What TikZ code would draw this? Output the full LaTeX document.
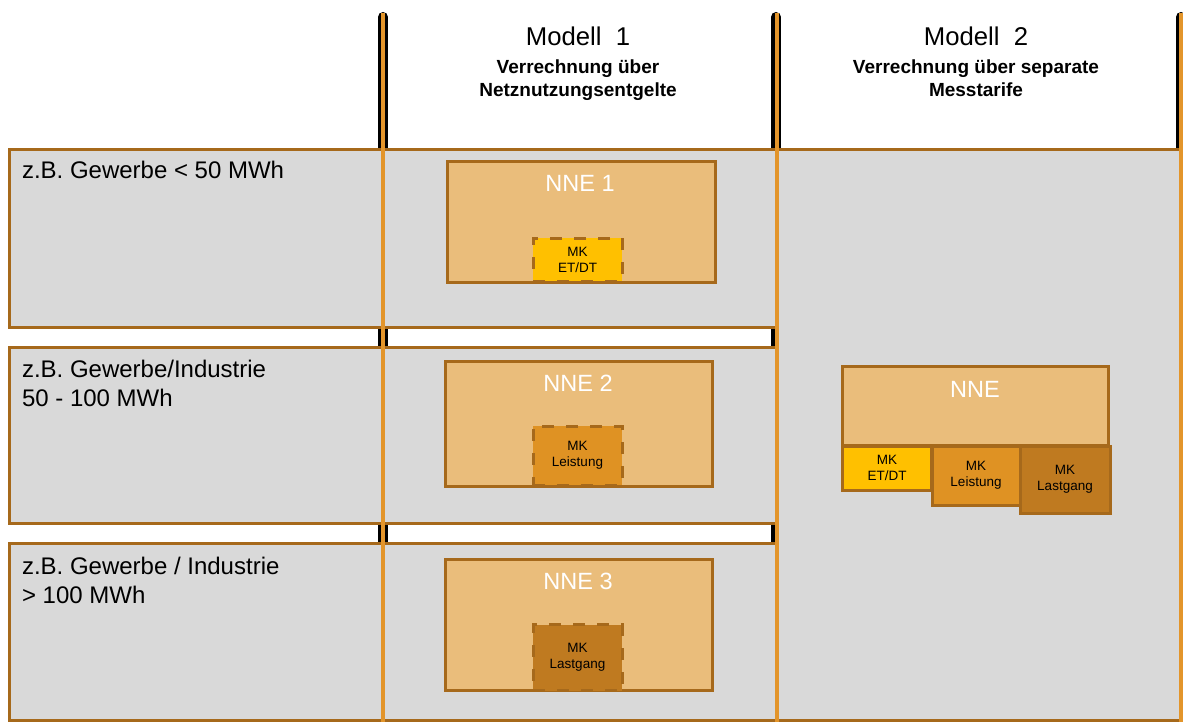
\documentclass[tikz,border=0pt]{standalone}
\usepackage{fontspec}
\setmainfont{Liberation Sans}
\definecolor{rowgray}{HTML}{D9D9D9}
\definecolor{edgebrown}{HTML}{A6691B}
\definecolor{rulerorange}{HTML}{E3952B}
\definecolor{nnefill}{HTML}{EABD7B}
\definecolor{mkyellow}{HTML}{FFC000}
\definecolor{mkorange}{HTML}{DF9223}
\definecolor{mkbrown}{HTML}{BF7A20}
\tikzset{
  plain/.style={rectangle, inner sep=0pt, outer sep=0pt},
  rowbox/.style={plain, draw=edgebrown, line width=3pt, fill=rowgray},
  nnebox/.style={plain, draw=edgebrown, line width=3pt, fill=nnefill},
  mkbox/.style={plain, draw=edgebrown, line width=3pt, align=center,
    font=\fontsize{13.5}{16}\selectfont},
  mkdashed/.style={mkbox, dash pattern=on 12pt off 12pt},
  blackbar/.style={line width=10pt, line cap=round, black},
  orangebar/.style={line width=4pt, rulerorange},
  titletext/.style={plain, anchor=base, font=\fontsize{25.7}{30}\selectfont},
  subtext/.style={plain, anchor=base, font=\fontsize{19}{22}\selectfont\bfseries},
  rowtext/.style={plain, anchor=base west, font=\fontsize{24}{28}\selectfont},
  nnetext/.style={plain, anchor=base, text=white, font=\fontsize{23.5}{27}\selectfont}
}
\begin{document}
\begin{tikzpicture}[x=1pt, y=-1pt]
  \useasboundingbox[fill=white] (0,0) rectangle (1183,722);

  % column separators: black bars behind the rows
  \coordinate (b1t) at (383,17);  \coordinate (b1b) at (383,720);
  \coordinate (b2t) at (776,17);  \coordinate (b2b) at (776,720);
  \coordinate (b3t) at (1181,17); \coordinate (b3b) at (1181,150);
  \draw[blackbar] (b1t) -- (b1b);
  \draw[blackbar] (b2t) -- (b2b);
  \draw[blackbar] (b3t) -- (b3b);

  % rows of the table
  \node[rowbox, minimum width=768pt, minimum height=177pt] (rowA) at (393,238.5) {};
  \node[rowbox, minimum width=768pt, minimum height=176pt] (rowB) at (393,435) {};
  \node[rowbox, minimum width=768pt, minimum height=177pt] (rowC) at (393,631.5) {};
  \node[rowbox, minimum width=404pt, minimum height=570pt] (right) at (979,435) {};

  % orange column rules in front
  \coordinate (o1t) at (383,13);  \coordinate (o1b) at (383,722);
  \coordinate (o2t) at (777,13);  \coordinate (o2b) at (777,722);
  \coordinate (o3t) at (1181,13); \coordinate (o3b) at (1181,722);
  \draw[orangebar] (o1t) -- (o1b);
  \draw[orangebar] (o2t) -- (o2b);
  \draw[orangebar] (o3t) -- (o3b);

  % headers
  \node[titletext] (m1) at (578,46) {Modell\ \ 1};
  \node[subtext] (m1a) at (578,74) {Verrechnung über};
  \node[subtext] (m1b) at (578,97) {Netznutzungsentgelte};
  \node[titletext] (m2) at (976,46) {Modell\ \ 2};
  \node[subtext] (m2a) at (976,74) {Verrechnung über separate};
  \node[subtext] (m2b) at (976,97) {Messtarife};

  % row labels
  \node[rowtext] (lA) at (22,179) {z.B. Gewerbe < 50 MWh};
  \node[rowtext] (lB1) at (22,377) {z.B. Gewerbe/Industrie};
  \node[rowtext] (lB2) at (22,406) {50 - 100 MWh};
  \node[rowtext] (lC1) at (22,574) {z.B. Gewerbe / Industrie};
  \node[rowtext] (lC2) at (22,603) {> 100 MWh};

  % model 1: charges with embedded metering cost
  \node[nnebox, minimum width=268pt, minimum height=120pt] (nne1) at (581,222) {};
  \node[nnetext] (t1) at (580,192) {NNE 1};
  \node[mkdashed, fill=mkyellow, minimum width=89pt, minimum height=43pt] (mk1) at (577.5,259.5) {MK\\ET/DT};

  \node[nnebox, minimum width=267pt, minimum height=125pt] (nne2) at (578.5,423.5) {};
  \node[nnetext] (t2) at (578,391) {NNE 2};
  \node[mkdashed, fill=mkorange, minimum width=89pt, minimum height=59pt] (mk2) at (577.5,455.5) {MK\\Leistung};

  \node[nnebox, minimum width=267pt, minimum height=131pt] (nne3) at (578.5,624.5) {};
  \node[nnetext] (t3) at (578,589) {NNE 3};
  \node[mkdashed, fill=mkbrown, minimum width=89pt, minimum height=66pt] (mk3) at (577.5,657.5) {MK\\Lastgang};

  % model 2: charges plus separate metering tariffs
  \node[nnebox, minimum width=266pt, minimum height=79pt] (nne) at (975,405.5) {};
  \node[nnetext] (t4) at (975,397) {NNE};
  \node[mkbox, fill=mkyellow, minimum width=89pt, minimum height=44pt] (mka) at (887,468) {MK\\ET/DT};
  \node[mkbox, fill=mkorange, minimum width=88pt, minimum height=59pt] (mkb) at (976,475.5) {MK\\Leistung};
  \node[mkbox, fill=mkbrown, minimum width=90pt, minimum height=67pt] (mkc) at (1065,479.5) {MK\\Lastgang};
\end{tikzpicture}
\end{document}
